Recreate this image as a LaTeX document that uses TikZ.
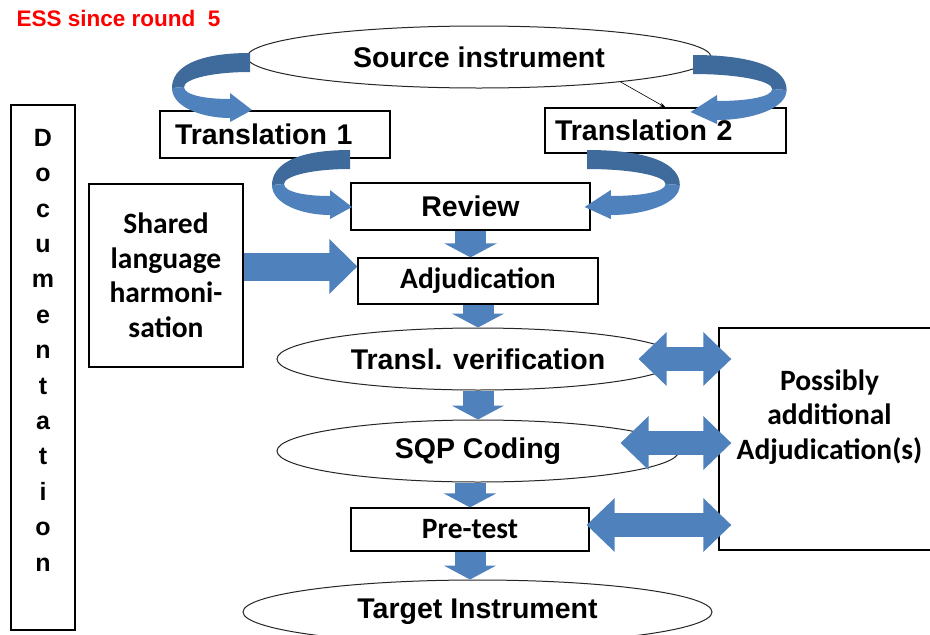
\documentclass[tikz,border=0pt]{standalone}
\usepackage{fontspec}
\setmainfont{Liberation Sans}
\newfontfamily\calib{Carlito}
\usetikzlibrary{arrows.meta,shapes.geometric}
\definecolor{flowblue}{HTML}{4F81BD}
\definecolor{flowdark}{HTML}{3F6A9C}
\definecolor{essred}{HTML}{FF0000}

\begin{document}
\begin{tikzpicture}[
  x=1pt, y=-1pt,
  every node/.style={font=\bfseries\fontsize{28.5}{32}\selectfont},
  stage/.style={rectangle, draw=black, line width=1.2pt, fill=white,
                inner sep=0pt, align=center},
  oval/.style={ellipse, draw=black!85, line width=1pt, fill=white,
               inner sep=0pt},
  smalltext/.style={font=\calib\bfseries\fontsize{29.5}{34.5}\selectfont,
                    align=center},
  downarr/.style={draw=flowblue, line width=31pt,
                  -{Triangle[width=52pt,length=14pt]}},
  rightarr/.style={draw=flowblue, line width=28pt,
                   -{Triangle[width=53pt,length=28pt]}},
  twoway/.style={draw=flowblue, line width=24pt,
                 {Triangle[width=52pt,length=28pt]}-{Triangle[width=52pt,length=28pt]}},
  ribbon/.pic={
    \fill[flowdark] (0,0) .. controls (-55,0) and (-78,15) .. (-78,35)
      -- (-66,34) .. controls (-66,26) and (-38,19) .. (0,19) -- cycle;
    \fill[flowblue] (-78,35) .. controls (-78,54) and (-48,65) .. (-20,65)
      -- (-20,69) -- (2,57) -- (-20,40) -- (-20,46)
      .. controls (-45,46) and (-66,42) .. (-66,34) -- cycle;
  },
]
\useasboundingbox (0,0) rectangle (930,635);

\node[anchor=west, text=essred, font=\bfseries\fontsize{22.5}{26}\selectfont]
  (ess) at (13,18) {ESS since round\ \ 5};

% main chain
\node[oval, minimum width=464pt, minimum height=62pt] (source) at (479,57)
  {Source instrument};
\node[stage, align=left, text width=200pt, inner xsep=15pt,
      minimum height=47pt] (trans1) at (275,134.5) {Translation 1};
\node[stage, align=left, text width=221pt, inner xsep=10pt,
      minimum height=45pt] (trans2) at (665.5,130.5) {Translation 2};
\node[stage, minimum width=239pt, minimum height=47pt] (review)
  at (470.5,206.5) {Review};
\node[stage, smalltext, minimum width=240pt, minimum height=46pt] (adjud)
  at (478,281) {Adjudication};
\node[oval, minimum width=402pt, minimum height=62pt] (verif) at (478,359)
  {Transl. verification};
\node[oval, minimum width=402pt, minimum height=62pt] (sqp) at (478,451)
  {SQP Coding};
\node[stage, smalltext, minimum width=238pt, minimum height=43pt] (pretest)
  at (470,529.5) {Pre-test};
\node[oval, minimum width=469pt, minimum height=64pt] (target)
  at (477.5,612) {Target Instrument};

% side boxes
\node[stage, smalltext, minimum width=154pt, minimum height=183pt] (shared)
  at (166,275.5) {Shared\\language\\harmoni-\\sation};
\node[stage, minimum width=221pt, minimum height=222pt] (extra)
  at (829.5,439) {};
\node[smalltext] (extratext) at ([yshift=22pt]extra.center)
  {Possibly\\additional\\Adjudication(s)};
\node[stage, minimum width=64pt, minimum height=525pt] (docu)
  at (43,367.5) {};
\node[align=center, font=\bfseries\fontsize{25}{35.4}\selectfont] (doctext)
  at ([yshift=17.5pt]docu.center)
  {D\\o\\c\\u\\m\\e\\n\\t\\a\\t\\i\\o\\n};

% curved arrows
\pic at (250,53) {ribbon};
\pic[xscale=-1.2] at (693,55) {ribbon};
\pic at (350,150) {ribbon};
\pic[xscale=-1.19] at (587,150) {ribbon};

\draw[-{Stealth[length=6pt,width=4pt]}, line width=0.6pt]
  (source.-10.4) -- (trans2.north);

% block arrows
\draw[downarr] (review.south) -- (review.south |- adjud.north);
\draw[downarr] (adjud.south) -- (adjud.south |- verif.north);
\draw[downarr] (verif.south) -- (sqp.north);
\draw[downarr] (pretest.north |- sqp.south) -- (pretest.north);
\draw[downarr] (pretest.south) -- (pretest.south |- target.north);

\coordinate (sharedout) at ([yshift=9pt]shared.east);
\draw[rightarr] (sharedout) -- (sharedout -| adjud.west);

\coordinate (sqpout) at ([yshift=8pt]sqp.east);
\coordinate (preout) at ([yshift=4.5pt]pretest.east);
\draw[twoway, shorten <=-41pt, shorten >=-13pt]
  (verif.east) -- (verif.east -| extra.west);
\draw[twoway, shorten <=-59pt, shorten >=-13pt]
  (sqpout) -- (sqpout -| extra.west);
\draw[twoway, shorten <=-3pt, shorten >=-13pt]
  (preout) -- (preout -| extra.west);
\end{tikzpicture}
\end{document}
